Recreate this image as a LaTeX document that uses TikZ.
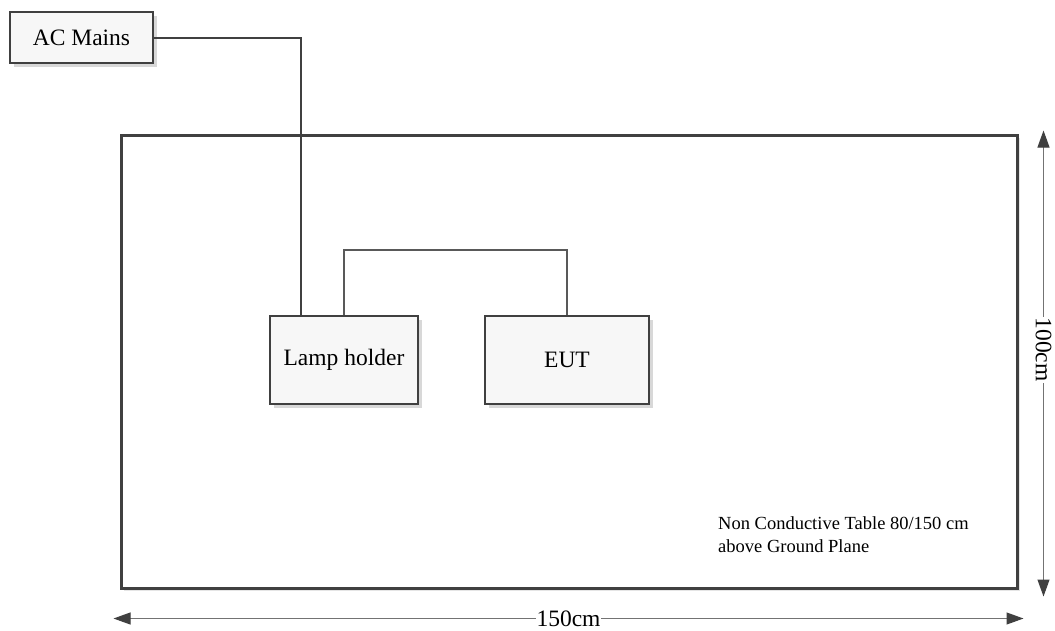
\documentclass[tikz,border=0pt]{standalone}
\usepackage{fontspec}
\setmainfont{Liberation Serif}
\usetikzlibrary{positioning,shadows,arrows.meta,calc}

\definecolor{wire}{HTML}{404040}
\definecolor{boxfill}{HTML}{F7F7F7}

\tikzstyle{unit}=[draw=wire,line width=2pt,fill=boxfill,inner sep=0pt,
  drop shadow={shadow xshift=4pt,shadow yshift=-4pt,fill=black!30},
  font=\fontsize{23.5}{26}\selectfont]
\tikzstyle{table}=[draw=wire,line width=3pt,fill=white,
  minimum width=896pt,minimum height=453pt,
  drop shadow={shadow xshift=3pt,shadow yshift=-3pt,fill=black!20}]
\tikzstyle{cable}=[draw=wire,line width=2pt]
\tikzstyle{dim}=[draw=black!55,line width=1pt,
  {Triangle[length=17pt,width=12pt,fill=wire,color=wire]}-{Triangle[length=17pt,width=12pt,fill=wire,color=wire]}]
\tikzstyle{dimlabel}=[fill=white,inner xsep=1pt,inner ysep=0pt,font=\fontsize{23.5}{24}\selectfont]

\begin{document}
\begin{tikzpicture}[x=1pt,y=-1pt]
        \useasboundingbox (0,0) rectangle (1055,630);
        %% The table
        \node[table] (table) at (569,361.5) {};
        %% The units
        \node[unit,minimum width=143pt,minimum height=51pt] (mains) at (81.5,37.5) {AC Mains};
        \node[unit,minimum width=148pt,minimum height=88pt] (lamp) at (344,360) {Lamp holder};
        \node[unit,minimum width=164pt,minimum height=88pt,right=65pt of lamp] (eut) {EUT};
        %%% The cables
        \draw[cable] (mains.east) -| ($(lamp.north west)+(32,0)$);
        \draw[cable,line width=1.5pt,draw=black!65] (lamp.north) -- ++(0,-65) -| (eut.north);
        %% Note on the table
        \node[anchor=north west,align=left,inner sep=0pt,
          font=\fontsize{18.5}{23}\selectfont] (note) at (718,516)
          {Non Conductive Table 80/150 cm\\above Ground Plane};
        %% Dimensions
        \draw[dim] ($(table.south west)+(-6,29)$) -- node[dimlabel]{150cm} ($(table.south east)+(5,29)$);
        \draw[dim] ($(table.north east)+(25,-3)$) -- node[dimlabel,rotate=-90,pos=0.47]{100cm} ($(table.south east)+(25,7)$);
\end{tikzpicture}
\end{document}
